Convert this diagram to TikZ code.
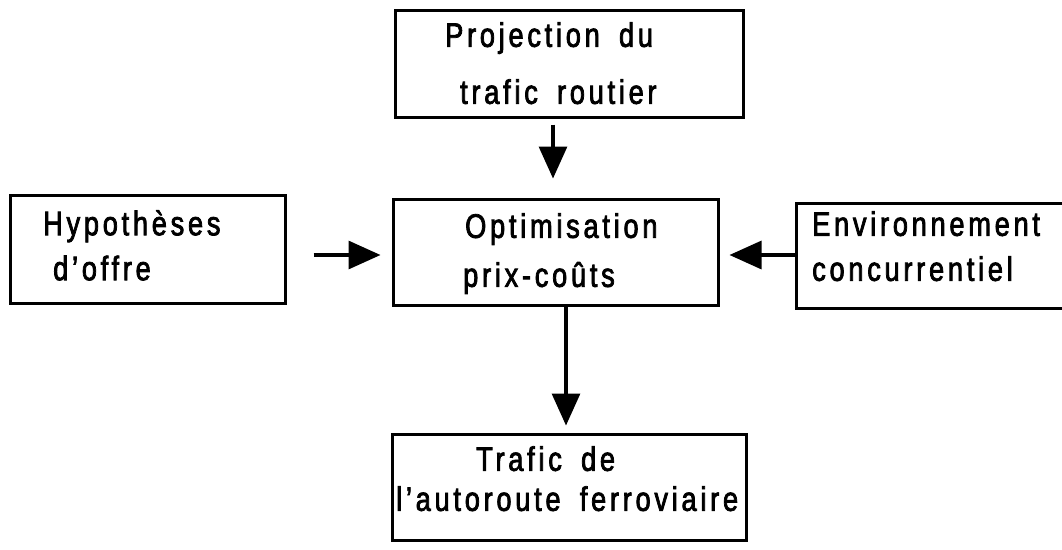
\documentclass[tikz,border=0pt]{standalone}
\usepackage{fontspec}
\setmainfont{Liberation Sans}[FakeStretch=0.8, LetterSpace=11, WordSpace=1.7, FakeBold=2.2]
\usetikzlibrary{arrows.meta}

\tikzset{
  box/.style={draw, line width=3pt, inner sep=0pt},
  txt/.style={anchor=north west, inner sep=0pt, align=left,
    font=\fontsize{34}{40}\selectfont},
  flow/.style={line width=3.2pt, -{Triangle[width=28pt,length=32pt]}},
}

\begin{document}
\begin{tikzpicture}[x=1pt, y=-1pt]
  \useasboundingbox (0,0) rectangle (1062,549);

  % frames
  \node[box, minimum width=348pt, minimum height=107pt] (proj) at (569,63.5) {};
  \node[box, minimum width=325pt, minimum height=106pt] (optim) at (555.5,252) {};
  \node[box, minimum width=275pt, minimum height=108pt] (hyp) at (147.5,249) {};
  \node[box, anchor=west, minimum width=290pt, minimum height=105pt] (env) at (795,255.5) {};
  \node[box, minimum width=354pt, minimum height=106pt] (traf) at (569,487) {};

  % labels inside the frames
  \node[txt] (proj-t) at (445,22) {Projection du\\[17pt]\hspace{15pt}trafic routier};
  \node[txt] (optim-t) at (465,213) {Optimisation\\[9pt]\hspace{-2pt}prix-coûts};
  \node[txt] (hyp-t) at (43,210) {Hypothèses\\[5pt]\hspace{10pt}d’offre};
  \node[txt] (env-t) at (812,211) {Environnement\\[5pt]concurrentiel};
  \node[txt] (traf-t) at (396,446) {\hspace{80pt}Trafic de\\l’autoroute ferroviaire};

  % connectors
  \draw[flow, shorten <=6pt, shorten >=19pt]
    ([xshift=-16pt]proj.south) -- ([xshift=-2.5pt]optim.north);
  \draw[flow, shorten <=27pt, shorten >=11pt]
    ([yshift=-6pt]hyp.east) -- ([yshift=-3pt]optim.west);
  \draw[flow, shorten >=10pt]
    ([yshift=0.5pt]env.west) -- ([yshift=-3pt]optim.east);
  \draw[flow, shorten >=7pt]
    ([xshift=10.5pt]optim.south) -- ([xshift=-3pt]traf.north);
\end{tikzpicture}
\end{document}
